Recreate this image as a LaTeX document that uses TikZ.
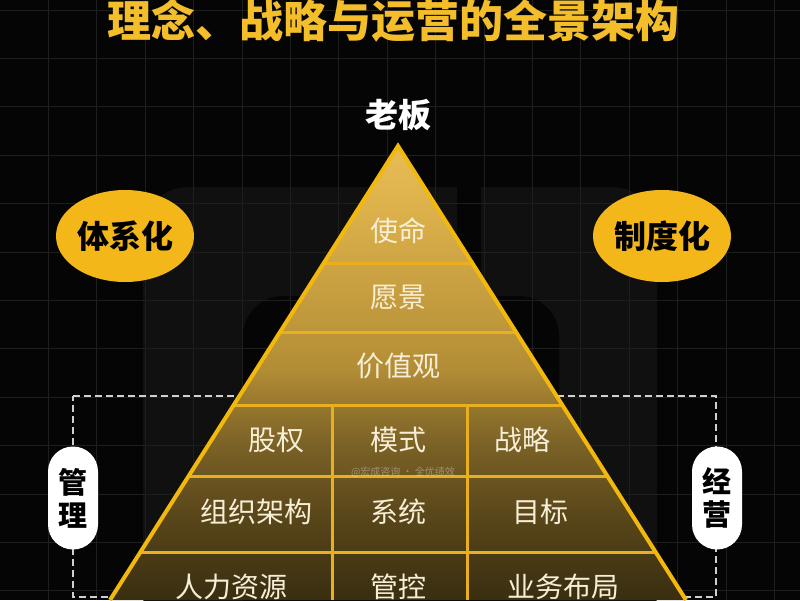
\documentclass[tikz,border=0pt]{standalone}
\usepackage{fontspec}
\newfontfamily\cjk{Noto Sans CJK SC}
\usetikzlibrary{calc,shapes.geometric}
\definecolor{bg}{HTML}{050505}
\definecolor{logo}{HTML}{101010}
\definecolor{gridc}{HTML}{1E1E1E}
\definecolor{titley}{HTML}{F4BD2A}
\definecolor{ellc}{HTML}{F4B71A}
\definecolor{edgec}{HTML}{F2B80C}
\definecolor{rowc}{HTML}{E8B020}
\definecolor{txtc}{HTML}{F6EED6}
\definecolor{dashc}{HTML}{D0D0D0}
\definecolor{p0}{HTML}{E9BD55}
\definecolor{p1}{HTML}{DCB14B}
\definecolor{p2}{HTML}{B38D36}
\definecolor{p3}{HTML}{7C6327}
\definecolor{p4}{HTML}{5A471A}
\definecolor{p5}{HTML}{403313}
\definecolor{p6}{HTML}{3A2E10}
\pgfdeclareverticalshading{pyrshade}{100bp}{color(0bp)=(p6); color(25bp)=(p6); color(27bp)=(p5); color(34.5bp)=(p4); color(42.5bp)=(p3); color(50.5bp)=(p2); color(68bp)=(p1); color(75bp)=(p0); color(100bp)=(p0)}
\tikzset{
  gridline/.style={draw=gridc, line width=0.9pt},
  titletext/.style={font=\cjk\bfseries\fontsize{44}{48}\selectfont, text=titley, inner sep=0pt},
  bosstext/.style={font=\cjk\bfseries\fontsize{33}{36}\selectfont, text=white, inner sep=0pt},
  ellnode/.style={ellipse, fill=ellc, minimum width=138pt, minimum height=92pt, inner sep=0pt,
     font=\cjk\bfseries\fontsize{32}{36}\selectfont, text=black},
  pill/.style={rectangle, rounded corners=25pt, fill=white, minimum width=50pt, minimum height=103pt,
     inner sep=0pt, align=center, font=\cjk\bfseries\fontsize{29}{33}\selectfont, text=black},
  dashbox/.style={draw=dashc, line width=1.8pt, dash pattern=on 7pt off 4pt},
  pyredge/.style={draw=edgec, line width=4pt, line join=miter},
  rowline/.style={draw=rowc, line width=3pt},
  cell/.style={font=\cjk\fontsize{28}{30}\selectfont, text=txtc, inner sep=0pt},
  wmark/.style={font=\cjk\fontsize{10}{12}\selectfont, text=white, opacity=0.35, inner sep=0pt}
}
\begin{document}
\begin{tikzpicture}[x=1pt,y=-1pt]
\path[use as bounding box] (0,0) rectangle (800,600);
\fill[bg] (0,0) rectangle (800,600);
\clip (0,0) rectangle (800,600);
% faint background logo
\fill[logo, rounded corners=45pt] (143,640) -- (143,187) -- (657,187) -- (657,640) -- cycle;
\fill[bg, rounded corners=40pt] (243,640) -- (243,296) -- (559,296) -- (559,640) -- cycle;
\fill[bg] (457,187) rectangle (481,296);
% grid
\foreach \i in {1,...,16} \draw[gridline] (48.4*\i,0) -- (48.4*\i,600);
\foreach \j in {0,...,12} \draw[gridline] (0,10+48.4*\j) -- (800,10+48.4*\j);
% title
\node[titletext] (title) at (393,21) {理念、战略与运营的全景架构};
\node[bosstext] (boss) at (398,115) {老板};
% ellipses
\node[ellnode] (tixi) at (125,236) {体系化};
\node[ellnode] (zhidu) at (662,236) {制度化};
% dashed frame
\coordinate (d1) at (73,396);
\coordinate (d2) at (716,396);
\coordinate (d3) at (716,597);
\coordinate (d4) at (73,597);
\draw[dashbox] (d1) -- (d2) -- (d3) -- (d4) -- cycle;
% pyramid
\coordinate (apex) at (398,146);
\coordinate (bl) at (110,600);
\coordinate (br) at (686,600);
\shade[shading=pyrshade] (apex) -- (bl) -- (br) -- cycle;
\path (apex) -- (bl)
  coordinate[pos=0.2577] (L1) coordinate[pos=0.4097] (L2) coordinate[pos=0.5705] (L3)
  coordinate[pos=0.7269] (L4) coordinate[pos=0.8943] (L5);
\path (apex) -- (br)
  coordinate[pos=0.2577] (R1) coordinate[pos=0.4097] (R2) coordinate[pos=0.5705] (R3)
  coordinate[pos=0.7269] (R4) coordinate[pos=0.8943] (R5);
\coordinate (v1t) at (332,405);
\coordinate (v1b) at (332,600);
\coordinate (v2t) at (467,405);
\coordinate (v2b) at (467,600);
\draw[rowline] (L1) -- (R1);
\draw[rowline] (L2) -- (R2);
\draw[rowline] (L3) -- (R3);
\draw[rowline] (L4) -- (R4);
\draw[rowline] (L5) -- (R5);
\draw[rowline] (v1t) -- (v1b);
\draw[rowline] (v2t) -- (v2b);
\draw[pyredge] (bl) -- (apex) -- (br);
% cell texts
\node[cell] (shiming) at (398,231) {使命};
\node[cell] (yuanjing) at (398,297) {愿景};
\node[cell] (jiazhi) at (398,366) {价值观};
\node[cell] (guquan) at (276,440) {股权};
\node[cell] (moshi) at (398,440) {模式};
\node[cell] (zhanlue) at (522,440) {战略};
\node[cell] (zuzhi) at (256,512) {组织架构};
\node[cell] (xitong) at (398,512) {系统};
\node[cell] (mubiao) at (540,512) {目标};
\node[cell] (renli) at (231,587) {人力资源};
\node[cell] (guankong) at (398,587) {管控};
\node[cell] (yewu) at (563,587) {业务布局};
\node[wmark] (wm) at (403,472) {@宏成咨询 · 全优绩效};
% pills
\node[pill] (guanli) at (73,498) {管\\理};
\node[pill] (jingying) at (717,498) {经\\营};
\end{tikzpicture}
\end{document}
